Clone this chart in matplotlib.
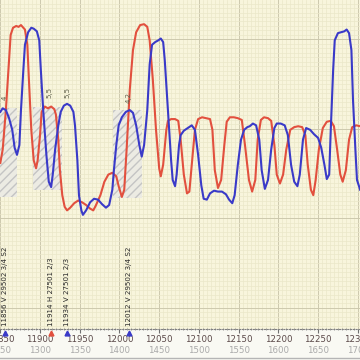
import matplotlib
matplotlib.use("Agg")
import matplotlib.pyplot as plt
from matplotlib.ticker import MultipleLocator
from matplotlib.lines import Line2D
from matplotlib.patches import Rectangle

# ---------------- data ----------------
red_x = [11850, 11853, 11857, 11861, 11863, 11866, 11870, 11873, 11876, 11879, 11881, 11884, 11886, 11889,
         11892, 11895, 11897, 11900, 11902, 11906, 11910, 11914, 11918, 11920, 11923, 11925, 11928, 11931,
         11934, 11938, 11943, 11948, 11953, 11958, 11963, 11967, 11970, 11976, 11981, 11986, 11991, 11996,
         11999, 12003, 12006, 12009, 12013, 12017, 12021, 12026, 12031, 12035, 12038, 12042, 12046, 12050,
         12052, 12055, 12059, 12061, 12065, 12070, 12074, 12077, 12081, 12085, 12088, 12091, 12095, 12099,
         12104, 12109, 12114, 12117, 12120, 12124, 12128, 12132, 12135, 12139, 12144, 12149, 12154, 12158,
         12163, 12167, 12171, 12174, 12178, 12182, 12187, 12191, 12195, 12198, 12202, 12206, 12210, 12215,
         12220, 12225, 12230, 12234, 12237, 12241, 12244, 12247, 12251, 12256, 12261, 12266, 12270, 12274,
         12278, 12281, 12285, 12289, 12293, 12298, 12303]
red_y = [16.2, 17.7, 22.1, 27.7, 30.5, 31.3, 31.5, 31.4, 31.6, 31.3, 31.1, 29.4, 25.5, 19.9,
         16.5, 15.6, 16.5, 19.3, 21.9, 22.5, 22.3, 22.5, 22.2, 21.6, 18.8, 15.4, 12.6, 11.3,
         10.9, 11.2, 11.7, 12.0, 11.8, 11.5, 11.1, 10.9, 11.4, 12.6, 14.1, 14.9, 15.1, 14.7,
         13.6, 12.4, 13.2, 17.7, 24.4, 28.8, 30.8, 31.6, 31.7, 31.4, 29.9, 25.5, 19.9, 15.6,
         14.7, 16.0, 19.9, 20.9, 21.1, 21.1, 20.9, 18.8, 14.9, 12.8, 13.0, 16.0, 19.9, 21.1,
         21.3, 21.2, 21.1, 19.9, 15.4, 13.4, 14.3, 18.2, 20.8, 21.3, 21.3, 21.2, 21.0, 18.2,
         14.3, 13.0, 14.3, 18.8, 21.0, 21.3, 21.2, 20.9, 18.2, 14.9, 13.9, 14.9, 17.7, 19.9,
         20.2, 20.3, 20.2, 19.3, 16.0, 13.2, 12.6, 14.3, 17.7, 20.1, 20.8, 20.9, 20.3, 17.7,
         14.9, 14.1, 15.4, 18.8, 20.2, 20.4, 20.3]

blue_x = [11850, 11853, 11857, 11861, 11865, 11868, 11871, 11874, 11876, 11879, 11881, 11885, 11889, 11892,
          11896, 11899, 11901, 11904, 11908, 11911, 11914, 11916, 11919, 11923, 11926, 11930, 11934, 11938,
          11942, 11944, 11947, 11949, 11952, 11954, 11958, 11963, 11968, 11973, 11978, 11983, 11987, 11991,
          11993, 11996, 11999, 12003, 12008, 12013, 12017, 12021, 12025, 12028, 12031, 12035, 12038, 12041,
          12045, 12049, 12052, 12055, 12057, 12061, 12065, 12067, 12070, 12072, 12075, 12077, 12081, 12086,
          12091, 12095, 12099, 12103, 12106, 12110, 12114, 12119, 12124, 12129, 12134, 12138, 12142, 12145,
          12149, 12153, 12157, 12161, 12164, 12168, 12172, 12176, 12179, 12183, 12187, 12191, 12195, 12198,
          12203, 12208, 12212, 12216, 12220, 12224, 12227, 12231, 12235, 12240, 12245, 12250, 12254, 12258,
          12261, 12264, 12266, 12269, 12271, 12275, 12279, 12283, 12286, 12289, 12292, 12294, 12297, 12299,
          12303]
blue_y = [21.9, 22.3, 22.1, 21.2, 19.9, 17.9, 17.1, 18.2, 22.1, 26.6, 29.4, 30.8, 31.3, 31.2,
          30.9, 29.9, 26.6, 22.1, 17.1, 14.1, 13.5, 14.9, 17.7, 20.4, 21.9, 22.6, 22.8, 22.6,
          21.9, 20.4, 16.5, 12.6, 10.9, 10.4, 10.9, 11.8, 12.2, 12.1, 11.6, 11.2, 11.5, 13.2,
          15.4, 18.2, 20.4, 21.3, 21.9, 22.1, 21.8, 20.4, 18.2, 16.9, 18.2, 22.1, 27.2, 29.4,
          29.7, 29.9, 30.1, 29.7, 27.7, 22.1, 16.5, 14.3, 13.6, 14.9, 18.2, 19.3, 19.8, 20.1,
          20.4, 19.9, 17.1, 13.7, 12.2, 12.1, 12.8, 13.1, 13.0, 13.0, 12.7, 12.1, 11.7, 12.6,
          16.0, 18.8, 19.9, 20.2, 20.3, 20.6, 20.4, 18.8, 15.4, 13.3, 14.3, 17.7, 20.1, 20.6,
          20.6, 20.4, 19.3, 16.0, 14.1, 13.6, 14.9, 18.8, 20.1, 19.9, 19.4, 19.0, 17.9, 16.0,
          14.4, 14.9, 19.9, 26.6, 29.9, 30.7, 30.8, 30.9, 31.1, 30.7, 28.8, 23.2, 17.7, 14.3,
          13.2]

# hatched zones: start, end, low, high
zone_start = [11849.6, 11891, 11992]
zone_end = [11871, 11928, 12028]
zone_low = [12.4, 13.2, 12.3]
zone_high = [22.3, 22.5, 22.1]

# peak value labels
peak_x = [11856, 11912, 11934, 12012]
peak_y = [23.2, 23.4, 23.5, 22.9]
peak_text = ["4", "5,5", "5,5", "4,2"]

# events
event_x = [11856, 11914, 11934, 12012]
event_text = ["11856 V 29502 3/4 S2", "11914 H 27501 2/3", "11934 V 27501 2/3", "12012 V 29502 3/4 S2"]
event_side = ["V", "H", "V", "V"]

tick_main = [11850, 11900, 11950, 12000, 12050, 12100, 12150, 12200, 12250, 12300]
tick_second = [1250, 1300, 1350, 1400, 1450, 1500, 1550, 1600, 1650, 1700]

# ---------------- style ----------------
RED = "#e2503e"
BLUE = "#3a3ac8"

fig = plt.figure(figsize=(3.6, 3.6), dpi=100, facecolor="#f9f9f3")
ax = fig.add_axes([0, 31 / 360, 1, 329 / 360])
ax.set_facecolor("#f8f5dc")
ax.set_xlim(11849.6, 12302.8)
ax.set_ylim(-2.35, 34.4)

ax.xaxis.set_major_locator(MultipleLocator(50))
ax.xaxis.set_minor_locator(MultipleLocator(5))
ax.yaxis.set_major_locator(MultipleLocator(10))
ax.yaxis.set_minor_locator(MultipleLocator(0.5))
ax.grid(which="major", color="#cdc9ae", lw=0.7)
ax.grid(which="minor", color="#ebe7c9", lw=0.5)
ax.set_axisbelow(True)

for s in ["top", "left", "right"]:
    ax.spines[s].set_visible(False)
ax.spines["bottom"].set_color("#808080")
ax.spines["bottom"].set_linestyle((0, (1, 1.5)))
ax.spines["bottom"].set_linewidth(0.8)

ax.tick_params(axis="y", which="both", length=0, labelleft=False)
ax.tick_params(axis="x", which="major", length=3, direction="out", color="#707070", labelbottom=False)
ax.tick_params(axis="x", which="minor", length=2, direction="inout", color="#909090")

xt = ax.get_xaxis_transform()
for t1, t2 in zip(tick_main, tick_second):
    ax.text(t1, -10 / 329, str(t1), transform=xt, ha="center", va="center",
            fontsize=6.2, color="#5a4848", clip_on=False)
    ax.text(t1, -21.5 / 329, str(t2), transform=xt, ha="center", va="center",
            fontsize=6.2, color="#a9a9a9", clip_on=False)

# hatched zones
for a, b, lo, hi in zip(zone_start, zone_end, zone_low, zone_high):
    ax.add_patch(Rectangle((a, lo), b - a, hi - lo, facecolor="#ecebe3", edgecolor="#c4c4c4",
                           hatch="////", lw=0, zorder=1.5))

ax.plot(red_x, red_y, color=RED, lw=1.5, zorder=3, solid_joinstyle="round")
ax.plot(blue_x, blue_y, color=BLUE, lw=1.5, zorder=3, solid_joinstyle="round")

for x, y, s in zip(peak_x, peak_y, peak_text):
    ax.text(x, y, s, rotation=90, ha="center", va="bottom", fontsize=5, color="#5f5f4a", zorder=4)

for x, s, side in zip(event_x, event_text, event_side):
    c = RED if side == "H" else BLUE
    ax.plot([x], [-3.5 / 329], marker="^", ms=3.5, color=c, transform=xt, clip_on=False, zorder=5)
    ax.text(x, 3 / 329, s, rotation=90, ha="center", va="bottom", fontsize=5.1,
            color="#262626", transform=xt, zorder=5)

fig.add_artist(Line2D([0, 1], [2.5 / 360, 2.5 / 360], color="#b5b5b5", lw=1))

fig.savefig("out.png", dpi=100, facecolor=fig.get_facecolor())
